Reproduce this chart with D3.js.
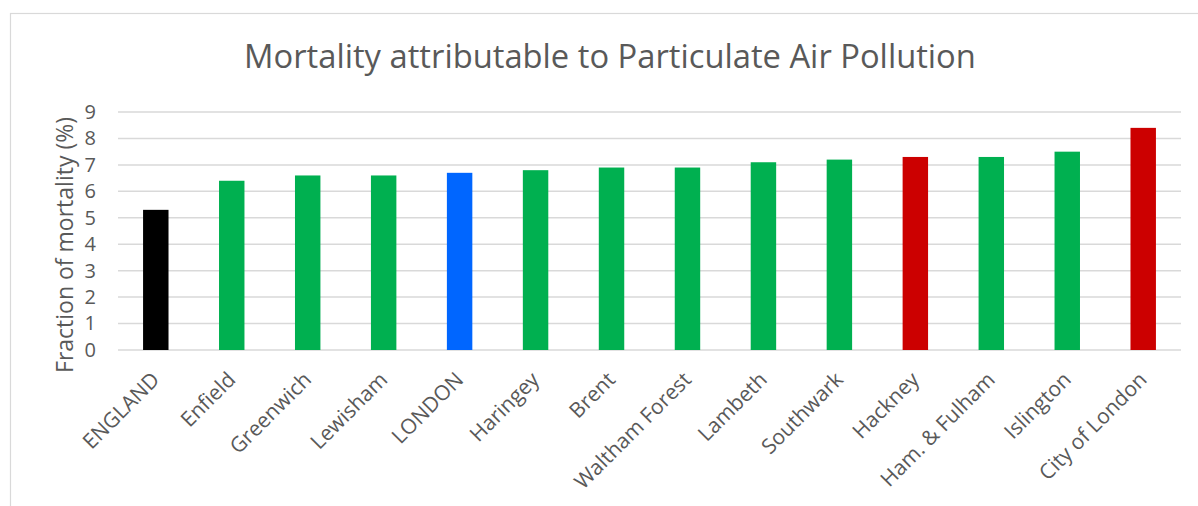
<!DOCTYPE html>
<html>
<head>
<meta charset="utf-8">
<script src="https://cdn.jsdelivr.net/npm/d3@7"></script>
<style>
  html, body { margin: 0; padding: 0; background: #fff; }
  svg { display: block; font-family: "Open Sans", "Noto Sans", sans-serif; }
</style>
</head>
<body>
<svg id="chart" width="1198" height="506"></svg>
<script>
// Fraction of deaths attributable to fine particulate pollution, by area
const areas = ["ENGLAND", "Enfield", "Greenwich", "Lewisham", "LONDON", "Haringey", "Brent",
  "Waltham Forest", "Lambeth", "Southwark", "Hackney", "Ham. & Fulham", "Islington", "City of London"];
const mortalityPct = [5.3, 6.4, 6.6, 6.6, 6.7, 6.8, 6.9, 6.9, 7.1, 7.2, 7.3, 7.3, 7.5, 8.4];
const groups = ["england", "borough", "borough", "borough", "london", "borough", "borough",
  "borough", "borough", "borough", "high", "borough", "borough", "high"];
const yTicks = [0, 1, 2, 3, 4, 5, 6, 7, 8, 9];
const titleText = "Mortality attributable to Particulate Air Pollution";
const yTitle = "Fraction of mortality (%)";

const groupColor = { england: "#000000", borough: "#00B050", london: "#0066FF", high: "#CC0000" };

const svg = d3.select("#chart");
const plot = { left: 118, right: 1181, top: 112, bottom: 350 };

// Chart frame
svg.append("rect")
  .attr("x", 10.5).attr("y", 13.5)
  .attr("width", 1220).attr("height", 520)
  .attr("fill", "none").attr("stroke", "#D9D9D9").attr("stroke-width", 1.2);

const x = d3.scaleBand().domain(areas).range([plot.left, plot.right]).paddingInner(0.665).paddingOuter(0.33);
const y = d3.scaleLinear().domain([0, 9]).range([plot.bottom, plot.top]);

// Horizontal gridlines
svg.append("g").selectAll("line").data(yTicks).join("line")
  .attr("x1", plot.left).attr("x2", plot.right)
  .attr("y1", d => y(d)).attr("y2", d => y(d))
  .attr("stroke", "#D9D9D9").attr("stroke-width", 1.5);

// Bars
svg.append("g").selectAll("rect").data(areas).join("rect")
  .attr("x", d => x(d))
  .attr("width", x.bandwidth())
  .attr("y", (d, i) => y(mortalityPct[i]))
  .attr("height", (d, i) => y(0) - y(mortalityPct[i]))
  .attr("fill", (d, i) => groupColor[groups[i]]);

// Y axis tick labels
const yAxis = d3.axisLeft(y).tickValues(yTicks).tickSize(0).tickPadding(0).tickFormat(d3.format("d"));
const yg = svg.append("g").attr("transform", `translate(${plot.left - 22},0)`).call(yAxis);
yg.select(".domain").remove();
yg.selectAll("text").attr("font-size", 20).attr("fill", "#595959")
  .attr("font-family", "'Open Sans', sans-serif");

// X axis category labels, rotated
const xAxis = d3.axisBottom(x).tickSize(0).tickPadding(0);
const xg = svg.append("g").attr("transform", `translate(0,${plot.bottom})`).call(xAxis);
xg.select(".domain").remove();
xg.selectAll("text")
  .attr("font-size", 21).attr("fill", "#595959")
  .attr("font-family", "'Open Sans', sans-serif")
  .attr("text-anchor", "end")
  .attr("dy", 0).attr("y", 0)
  .attr("transform", "translate(5,31) rotate(-45)");

// Scale a text element's font so its rendered length matches a target width
function fitText(sel, target) {
  const len = sel.node().getComputedTextLength();
  const fs = parseFloat(sel.attr("font-size"));
  sel.attr("font-size", fs * target / len);
}

// Title
const title = svg.append("text")
  .attr("x", 610).attr("y", 68)
  .attr("text-anchor", "middle")
  .attr("font-size", 28).attr("fill", "#595959")
  .text(titleText);
fitText(title, 732);

// Y axis title
const yt = svg.append("text")
  .attr("transform", "translate(73,245) rotate(-90)")
  .attr("text-anchor", "middle")
  .attr("font-size", 20).attr("fill", "#595959")
  .text(yTitle);
fitText(yt, 256);
</script>
</body>
</html>
